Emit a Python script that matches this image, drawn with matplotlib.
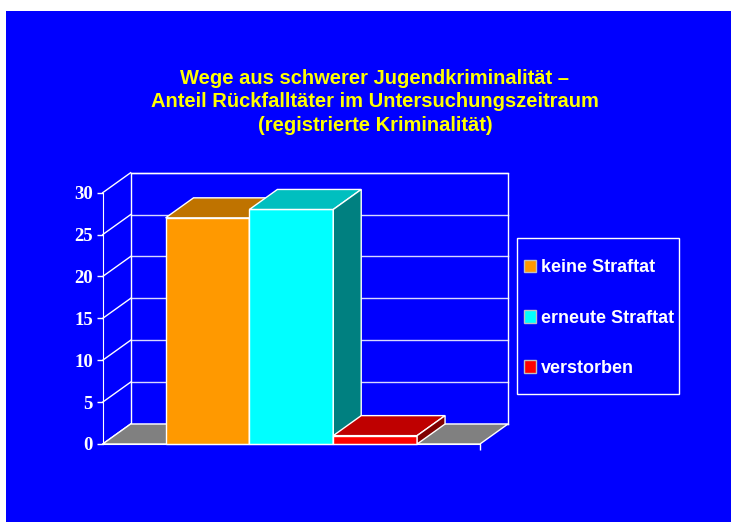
import matplotlib
matplotlib.use("Agg")
import matplotlib.pyplot as plt
from matplotlib.patches import Polygon, Rectangle, Patch

# ---
# Data
# ---

title = "Wege aus schwerer Jugendkriminalität –\nAnteil Rückfalltäter im Untersuchungszeitraum\n(registrierte Kriminalität)"
labels = ["keine Straftat", "erneute Straftat", "verstorben"]
values = [27, 28, 1]
y_ticks = [0, 5, 10, 15, 20, 25, 30]

# face colours: front, top, side
front_cols = ["#FF9900", "#00FFFF", "#FF0000"]
top_cols = ["#BF7300", "#00BFBF", "#BF0000"]
side_cols = ["#805000", "#008080", "#800000"]

BLUE = "#0000FF"
FLOOR = "#808080"
W, H = 731, 522

# ---
# Figure and slide background
# ---

fig = plt.figure(figsize=(W / 100, H / 100), dpi=100, facecolor="white")
fig.patches.append(Rectangle((6 / W, 0), 1 - 6 / W, 1 - 11 / H, transform=fig.transFigure,
                             facecolor=BLUE, edgecolor="none", zorder=-10))

fig.text(375 / W, 1 - 68.5 / H, title, ha="center", va="top", color="#FFFF00",
         fontsize=14.5, fontweight="bold", family="Liberation Sans", linespacing=1.31)

# front plot area (floor front edge .. top of value axis)
x0, x1 = 102.7, 480.0
y0, y1 = 444.0, 192.7
ax = fig.add_axes([x0 / W, 1 - y0 / H, (x1 - x0) / W, (y0 - y1) / H])
ax.set_facecolor("none")
ax.set_zorder(1)

XMAX, YMAX = 4.5, 30
ax.set_xlim(0, XMAX)
ax.set_ylim(0, YMAX)

# depth of the 3D box in data units
DX = 28 / 84
DY = 20 / ((y0 - y1) / YMAX)

line_kw = dict(color="white", lw=1, clip_on=False)

# back wall with grid lines
for t in y_ticks:
    ax.plot([DX, XMAX + DX], [t + DY, t + DY], color="white", lw=1, alpha=0.85, clip_on=False, zorder=1)
ax.plot([DX, DX, XMAX + DX, XMAX + DX], [DY, YMAX + DY, YMAX + DY, DY], zorder=1, **line_kw)

# left wall diagonals
for t in y_ticks:
    ax.plot([0, DX], [t, t + DY], zorder=1, **line_kw)

# floor
ax.add_patch(Polygon([(0, 0), (XMAX, 0), (XMAX + DX, DY), (DX, DY)], closed=True,
                     facecolor=FLOOR, edgecolor="white", lw=1, clip_on=False, zorder=2))

# bars (one group, three series)
gap = (XMAX - len(values)) / 2
for i, v in enumerate(values):
    a = gap + i
    b = a + 1
    z = 3 + i
    ax.add_patch(Polygon([(a, 0), (b, 0), (b, v), (a, v)], closed=True, facecolor=front_cols[i],
                         edgecolor="white", lw=1, clip_on=False, zorder=z))
    ax.add_patch(Polygon([(a, v), (b, v), (b + DX, v + DY), (a + DX, v + DY)], closed=True,
                         facecolor=top_cols[i], edgecolor="white", lw=1, clip_on=False, zorder=z))
    ax.add_patch(Polygon([(b, 0), (b + DX, DY), (b + DX, v + DY), (b, v)], closed=True,
                         facecolor=side_cols[i], edgecolor="white", lw=1, clip_on=False, zorder=z))

# axes styling
for s in ["top", "right"]:
    ax.spines[s].set_visible(False)
for s in ["left", "bottom"]:
    ax.spines[s].set_color("white")
    ax.spines[s].set_zorder(10)
ax.set_yticks(y_ticks)
ax.set_yticklabels([str(t) for t in y_ticks], color="white", fontsize=13.5,
                   fontweight="bold", family="Liberation Serif")
ax.set_xticks([XMAX])
ax.set_xticklabels([])
ax.tick_params(axis="both", colors="white", length=4, width=1, direction="out", pad=3)

# legend: frame drawn separately, entries placed inside
fig.patches.append(Rectangle((517 / W, 1 - 394 / H), 162 / W, 156 / H, transform=fig.transFigure,
                             facecolor="none", edgecolor="white", lw=1, zorder=4))
handles = [Patch(facecolor=c, edgecolor="#C0C0C0", lw=1) for c in front_cols]
leg = fig.legend(handles, labels, loc="upper left", bbox_to_anchor=(524 / W, 1 - 259.5 / H),
                 frameon=False, prop=dict(family="Liberation Sans", weight="bold", size=13),
                 labelcolor="white", handlelength=0.68, handleheight=0.68, handletextpad=0.28,
                 labelspacing=1.84, borderpad=0, borderaxespad=0)

fig.savefig("out.png", dpi=100, facecolor=fig.get_facecolor())
